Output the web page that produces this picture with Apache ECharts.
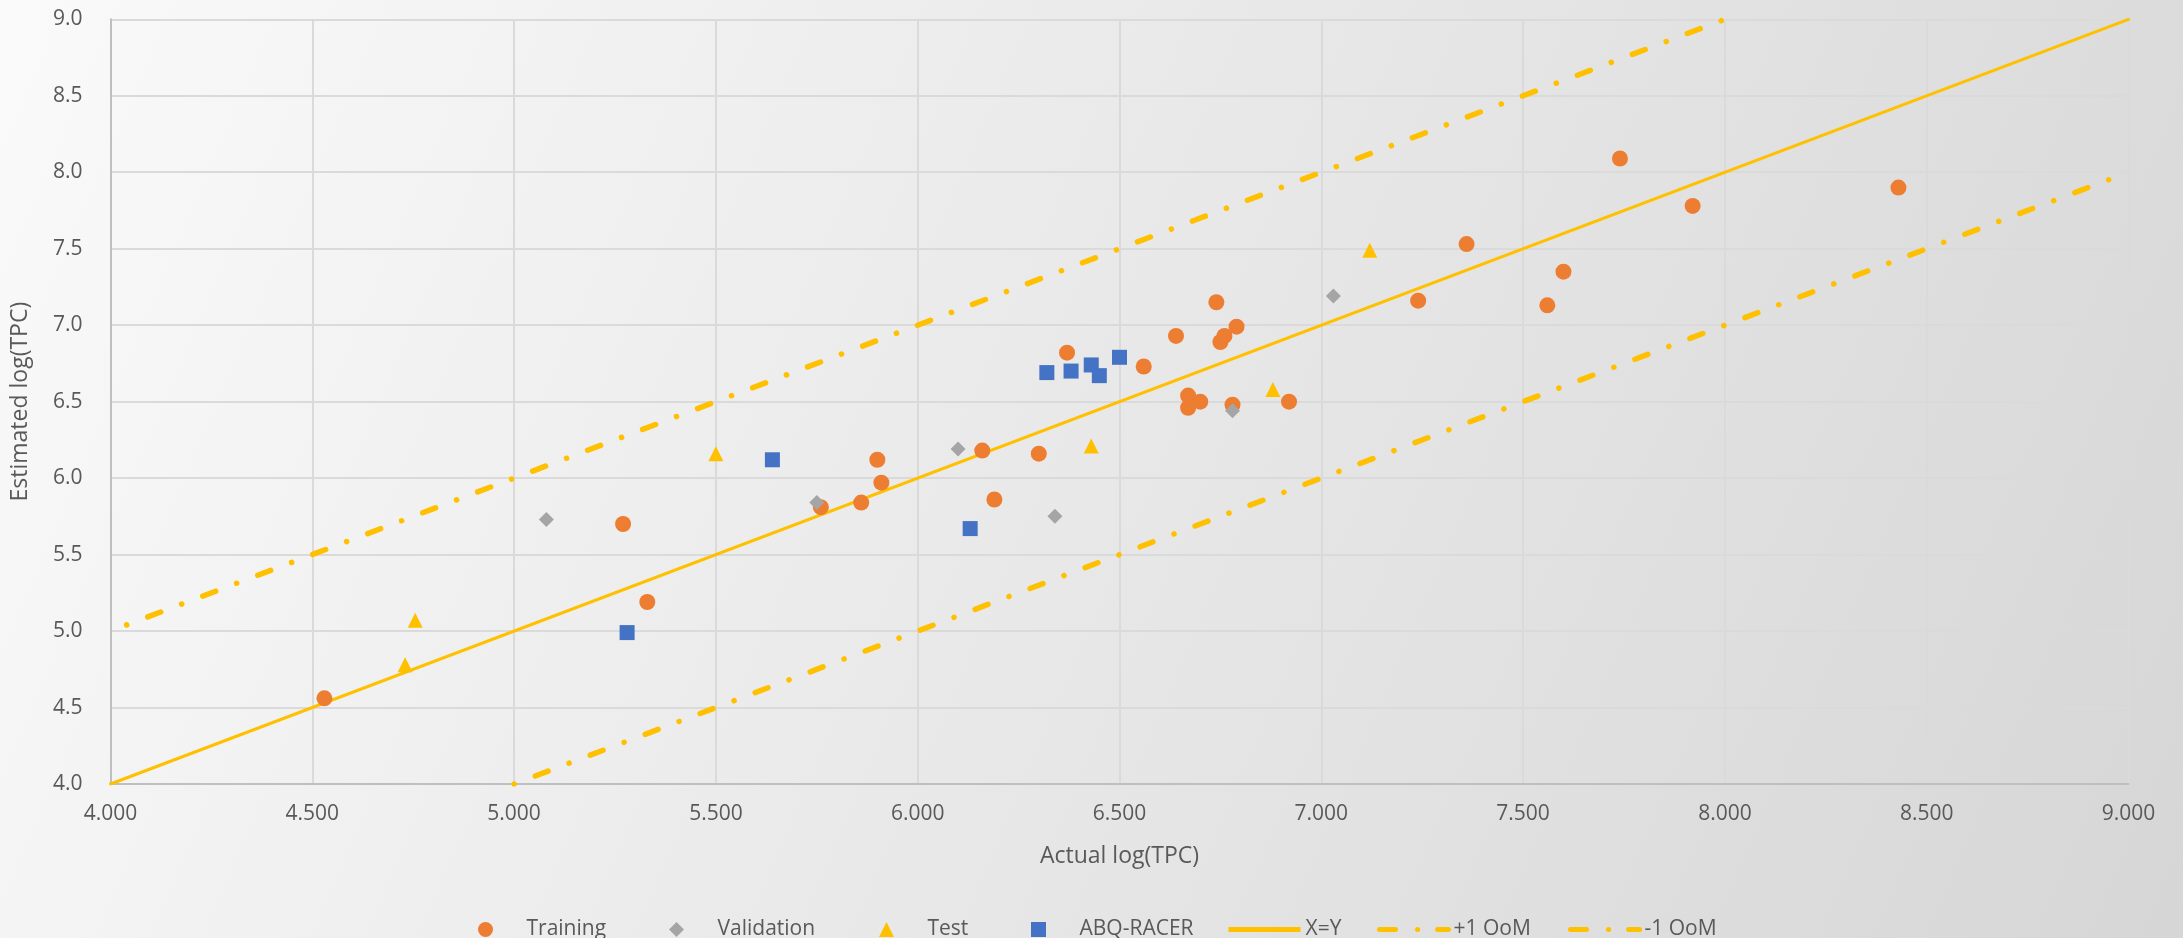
<!DOCTYPE html>
<html>
<head>
<meta charset="utf-8">
<script src="https://cdn.jsdelivr.net/npm/echarts@6/dist/echarts.min.js"></script>
<style>
  html, body { margin: 0; padding: 0; }
  #chart { width: 2183px; height: 938px; }
</style>
</head>
<body>
<div id="chart"></div>
<script>
// Actual vs. estimated log(TPC): [actual, estimated]
const training = [
  [4.53, 4.56], [5.27, 5.70], [5.33, 5.19], [5.76, 5.81], [5.86, 5.84],
  [5.90, 6.12], [5.91, 5.97], [6.16, 6.18], [6.19, 5.86], [6.30, 6.16],
  [6.37, 6.82], [6.56, 6.73], [6.64, 6.93], [6.67, 6.54], [6.67, 6.46],
  [6.70, 6.50], [6.74, 7.15], [6.75, 6.89], [6.76, 6.93], [6.79, 6.99],
  [6.78, 6.48], [6.92, 6.50], [7.24, 7.16], [7.36, 7.53], [7.56, 7.13],
  [7.60, 7.35], [7.74, 8.09], [7.92, 7.78], [8.43, 7.90]
];
const validation = [
  [5.08, 5.73], [5.75, 5.84], [6.10, 6.19], [6.34, 5.75], [6.78, 6.44], [7.03, 7.19]
];
const test = [
  [4.73, 4.78], [4.755, 5.07], [5.50, 6.16], [6.43, 6.21], [6.88, 6.58], [7.12, 7.49]
];
const abqRacer = [
  [5.28, 4.99], [5.64, 6.12], [6.13, 5.67], [6.32, 6.69], [6.38, 6.70],
  [6.43, 6.74], [6.45, 6.67], [6.50, 6.79]
];

// Reference lines
const identityLine = [[4, 4], [9, 9]];
const plusOneOoM = [[4.04, 5.04], [8, 9]];
const minusOneOoM = [[5, 4], [9, 8]];

// Tick labels
const xTickLabels = ['4.000', '4.500', '5.000', '5.500', '6.000', '6.500', '7.000', '7.500', '8.000', '8.500', '9.000'];
const yTickLabels = ['4.0', '4.5', '5.0', '5.5', '6.0', '6.5', '7.0', '7.5', '8.0', '8.5', '9.0'];

const FONT = 'Open Sans';
const TEXT = '#595959';
const ORANGE = '#ED7D31', GRAY = '#A5A5A5', GOLD = '#FFC000', BLUE = '#4472C4';
const dashDot = [0.1, 22.5, 13.8, 22.4];

// Square-aspect legend glyphs (path icons keep their aspect inside the wide legend box)
const ICON_DIAMOND = 'path://M0,-1L1,0L0,1L-1,0Z';
const ICON_TRIANGLE = 'path://M0,-1L1,1L-1,1Z';
const ICON_SQUARE = 'path://M0,0L1,0L1,1L0,1Z';

const solidKey = { width: 5, type: 'solid', cap: 'butt' };
const dashDotKey = { width: 5, type: [16, 22, 0.1, 20], dashOffset: -3, cap: 'round' };

// One legend entry per slot so each key sits at its own place along the bottom row
const legendSlots = [
  { name: 'Training', icon: 'circle', left: 473 },
  { name: 'Validation', icon: ICON_DIAMOND, left: 664 },
  { name: 'Test', icon: ICON_TRIANGLE, left: 874 },
  { name: 'ABQ-RACER', icon: ICON_SQUARE, left: 1026 },
  { name: 'X=Y', line: solidKey, left: 1221 },
  { name: '+1 OoM', line: dashDotKey, left: 1369 },
  { name: '-1 OoM', line: dashDotKey, left: 1560 }
];

const chart = echarts.init(document.getElementById('chart'), null, { renderer: 'canvas' });

const scatter = (name, data, symbol, size, color) => ({
  name, type: 'scatter', data, symbol, symbolSize: size, z: 5,
  itemStyle: { color, opacity: 1 },
  emphasis: { disabled: true }
});
const refLine = (name, data, width, dash) => ({
  name, type: 'line', data, symbol: 'none', z: 3, silent: true,
  itemStyle: { color: 'rgba(0,0,0,0)' },
  lineStyle: { color: GOLD, width, type: dash || 'solid', cap: 'round' },
  emphasis: { disabled: true }
});

chart.setOption({
  animation: false,
  backgroundColor: new echarts.graphic.LinearGradient(0, 0, 1, 1, [
    { offset: 0, color: '#fafafa' },
    { offset: 1, color: '#d6d6d6' }
  ]),
  textStyle: { fontFamily: FONT },
  grid: { left: 110.5, top: 19.3, right: 54.5, bottom: 154, containLabel: false },
  xAxis: {
    type: 'value', min: 4, max: 9, interval: 0.5,
    name: 'Actual log(TPC)', nameLocation: 'middle', nameGap: 61,
    nameTextStyle: { color: TEXT, fontSize: 23, fontFamily: FONT },
    axisLine: { show: true, onZero: false, lineStyle: { color: '#bfbfbf', width: 2 } },
    axisTick: { show: false },
    axisLabel: {
      color: TEXT, fontSize: 21, fontFamily: FONT, margin: 20,
      formatter: v => xTickLabels[Math.round((v - 4) / 0.5)]
    },
    splitLine: { show: true, lineStyle: { color: '#dadada', width: 2 } }
  },
  yAxis: {
    type: 'value', min: 4, max: 9, interval: 0.5,
    name: 'Estimated log(TPC)', nameLocation: 'middle', nameGap: 79, nameRotate: 90,
    nameTextStyle: { color: TEXT, fontSize: 23, fontFamily: FONT },
    axisLine: { show: true, onZero: false, lineStyle: { color: '#bfbfbf', width: 2 } },
    axisTick: { show: false },
    axisLabel: {
      color: TEXT, fontSize: 21, fontFamily: FONT, margin: 28,
      formatter: v => yTickLabels[Math.round((v - 4) / 0.5)]
    },
    splitLine: { show: true, lineStyle: { color: '#dadada', width: 2 } }
  },
  legend: legendSlots.map(s => ({
    left: s.left, top: 914, orient: 'horizontal',
    itemWidth: 72, itemHeight: 15,
    selectedMode: false,
    textStyle: { color: TEXT, fontSize: 21, fontFamily: FONT },
    lineStyle: s.line || {},
    data: [s.icon ? { name: s.name, icon: s.icon } : s.name]
  })),
  series: [
    refLine('X=Y', identityLine, 3),
    refLine('+1 OoM', plusOneOoM, 5.5, dashDot),
    refLine('-1 OoM', minusOneOoM, 5.5, dashDot),
    scatter('Training', training, 'circle', 16, ORANGE),
    scatter('Validation', validation, 'diamond', 15, GRAY),
    scatter('Test', test, 'triangle', 15, GOLD),
    scatter('ABQ-RACER', abqRacer, 'rect', 15, BLUE)
  ]
});
</script>
</body>
</html>
